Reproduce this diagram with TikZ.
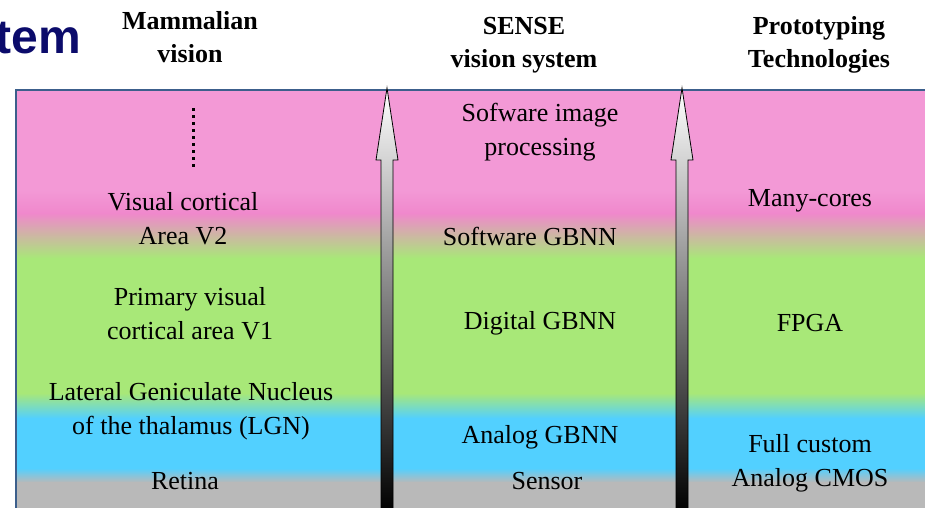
\documentclass[tikz,border=0pt]{standalone}
\usepackage{fontspec}
\setmainfont{Liberation Serif}
\newfontfamily\titlefont{Liberation Sans}
\usetikzlibrary{positioning}
\definecolor{pinkbg}{HTML}{F399D6}
\definecolor{deeppink}{HTML}{F088CC}
\definecolor{greenbg}{HTML}{A8E878}
\definecolor{cyanbg}{HTML}{52D0FF}
\definecolor{graybg}{HTML}{B9B9B9}
\definecolor{frameblue}{HTML}{3C5F8C}
\definecolor{titlenavy}{HTML}{0B0B6B}
\tikzset{
    body/.style={font=\fontsize{26}{34}\selectfont, align=center},
    header/.style={font=\fontsize{26}{33}\selectfont\bfseries, align=center},
}

\begin{document}
\begin{tikzpicture}[x=1pt, y=-1pt]
    \clip (0,0) rectangle (925,507);
    % colour bands
    \fill[pinkbg] (16,90) rectangle (930,190.5);
    \shade[top color=pinkbg, bottom color=deeppink] (16,190) rectangle (930,213.5);
    \shade[top color=deeppink, bottom color=greenbg] (16,213) rectangle (930,258.5);
    \fill[greenbg] (16,258) rectangle (930,393.5);
    \shade[top color=greenbg, bottom color=cyanbg] (16,393) rectangle (930,418.5);
    \fill[cyanbg] (16,418) rectangle (930,468.5);
    \shade[top color=cyanbg, bottom color=graybg] (16,468) rectangle (930,482.5);
    \fill[graybg] (16,482) rectangle (930,510);
    \draw[frameblue, line width=2.5] (16,510) -- (16,90) -- (930,90);

    % headers
    \node[font=\titlefont\bfseries\fontsize{48}{56}\selectfont, text=titlenavy, anchor=base east, inner sep=0] (titletail) at (81,53) {tem};
    \node[header] (mammal) at (190,37) {Mammalian\\vision};
    \node[header] (sense) at (524,45) {SENSE\\vision system};
    \node[header] (proto) at (819,45) {Prototyping\\Technologies};

    % mammalian column
    \draw[line width=3, dash pattern=on 3 off 4] (193,108) -- (193,168);
    \node[body] (areav2) at (183,219) {Visual cortical\\Area V2};
    \node[body] (areav1) at (190,314) {Primary visual\\cortical area V1};
    \node[body] (lgn) at (191,411) {Lateral Geniculate Nucleus\\of the thalamus (LGN)};
    \node[body] (retina) at (185,481) {Retina};

    % sense column
    \node[body] (swimage) at (540,132) {Sofware image\\processing};
    \node[body] (swgbnn) at (530,236) {Software GBNN};
    \node[body] (digital) at (540,323) {Digital GBNN};
    \node[body] (analog) at (540,437) {Analog GBNN};
    \node[body] (sensor) at (547,481) {Sensor};

    % technology column
    \node[body] (manycores) at (810,201) {Many-cores};
    \node[body] (fpga) at (810,323) {FPGA};
    \node[body] (cmos) at (810,463) {Full custom\\Analog CMOS};

    % upward arrows
    \foreach \ax in {387,682} {
        \shadedraw[draw=black, line width=0.8, top color=white, middle color=gray!50, bottom color=black]
            (\ax,88) -- (\ax+11,160) -- (\ax+6,160) -- (\ax+6,512) -- (\ax-6,512)
            -- (\ax-6,160) -- (\ax-11,160) -- cycle;
    }
\end{tikzpicture}
\end{document}
